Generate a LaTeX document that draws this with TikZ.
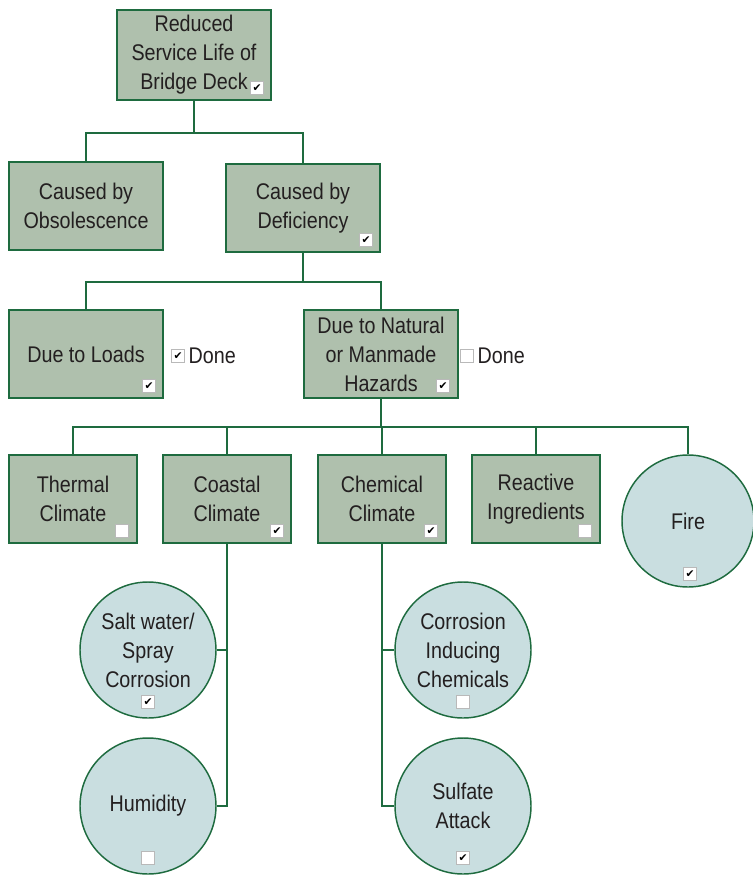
\documentclass[tikz,border=0pt]{standalone}
\usepackage{fontspec}
\setmainfont{Liberation Sans}[FakeStretch=0.87]
\newfontfamily\symfont{DejaVu Sans}
\usepackage{tikz}
\newcommand{\cmark}{{\symfont ✔}}
\definecolor{boxgreen}{HTML}{AFC0AD}
\definecolor{linegreen}{HTML}{1E6B3F}
\definecolor{circblue}{HTML}{C9DEE0}
\definecolor{inkgray}{HTML}{231F20}

\begin{document}
\begin{tikzpicture}[x=0.75pt, y=-0.75pt,
	every node/.style={text=inkgray, font=\fontsize{17}{21.75}\selectfont, align=center},
	goal/.style={draw=linegreen, line width=1.1pt, fill=boxgreen, minimum width=115.5pt, minimum height=66pt, inner sep=0pt},
	cause/.style={goal, minimum width=96pt},
	leaf/.style={circle, draw=linegreen, line width=1.1pt, fill=circblue, minimum size=102pt, inner sep=0pt},
	chk/.style={draw=gray!55, fill=white, line width=1pt, minimum size=10pt, inner sep=0pt, text=black, font=\fontsize{8}{8}\selectfont},
	link/.style={draw=linegreen, line width=1.3pt}]
	\useasboundingbox (0,0) rectangle (753,875);
	% tree boxes
	\node[goal, minimum height=67.5pt] (deck) at (194, 55) {Reduced\\Service Life of\\Bridge Deck};
	\node[goal] (obs) at (86, 206) {Caused by\\Obsolescence};
	\node[goal] (def) at (303, 208) {Caused by\\Deficiency};
	\node[goal] (loads) at (86, 354) {Due to Loads};
	\node[goal] (haz) at (381, 354) {Due to Natural\\or Manmade\\Hazards};
	\node[cause] (therm) at (73, 499) {Thermal\\Climate};
	\node[cause] (coast) at (227, 499) {Coastal\\Climate};
	\node[cause] (chem) at (382, 499) {Chemical\\Climate};
	\node[cause] (react) at (536, 499) {Reactive\\Ingredients};
	\node[leaf, minimum size=99pt] (fire) at (688, 521) {Fire};
	\node[leaf] (salt) at (148, 650) {Salt water/\\Spray\\Corrosion};
	\node[leaf] (hum) at (148, 806) {Humidity};
	\node[leaf] (corr) at (463, 650) {Corrosion\\Inducing\\Chemicals};
	\node[leaf] (sulf) at (463, 806) {Sulfate\\Attack};
	% check boxes
	\node[chk] (c1) at (257, 88) {\cmark};
	\node[chk] (c2) at (366, 240) {\cmark};
	\node[chk] (c3) at (149, 386) {\cmark};
	\node[chk] (c4) at (443, 386) {\cmark};
	\node[chk] (c5) at (122, 531) {};
	\node[chk] (c6) at (277, 531) {\cmark};
	\node[chk] (c7) at (431, 531) {\cmark};
	\node[chk] (c8) at (585, 531) {};
	\node[chk] (c9) at (690, 574) {\cmark};
	\node[chk] (c10) at (148, 702) {\cmark};
	\node[chk] (c11) at (148, 858) {};
	\node[chk] (c12) at (463, 702) {};
	\node[chk] (c13) at (463, 858) {\cmark};
	\node[chk] (done1) at (178, 356) {\cmark};
	\node[right=-1pt] (lbl1) at (done1.east) {Done};
	\node[chk] (done2) at (467, 356) {};
	\node[right=-1pt] (lbl2) at (done2.east) {Done};
	% connectors
	\draw[link] (deck.south) -- ++(0,32) -| (obs.north);
	\draw[link] (deck.south) -- ++(0,32) -| (def.north);
	\draw[link] (def.south) -- ++(0,29) -| (loads.north);
	\draw[link] (def.south) -- ++(0,29) -| (haz.north);
	\draw[link] (haz.south) -- ++(0,28) -| (therm.north);
	\draw[link] (haz.south) -- ++(0,28) -| (coast.north);
	\draw[link] (haz.south) -- ++(0,28) -| (chem.north);
	\draw[link] (haz.south) -- ++(0,28) -| (react.north);
	\draw[link] (haz.south) -- ++(0,28) -| (fire.north);
	\draw[link] (coast.south) |- (salt.east);
	\draw[link] (coast.south) |- (hum.east);
	\draw[link] (chem.south) |- (corr.west);
	\draw[link] (chem.south) |- (sulf.west);
\end{tikzpicture}
\end{document}
